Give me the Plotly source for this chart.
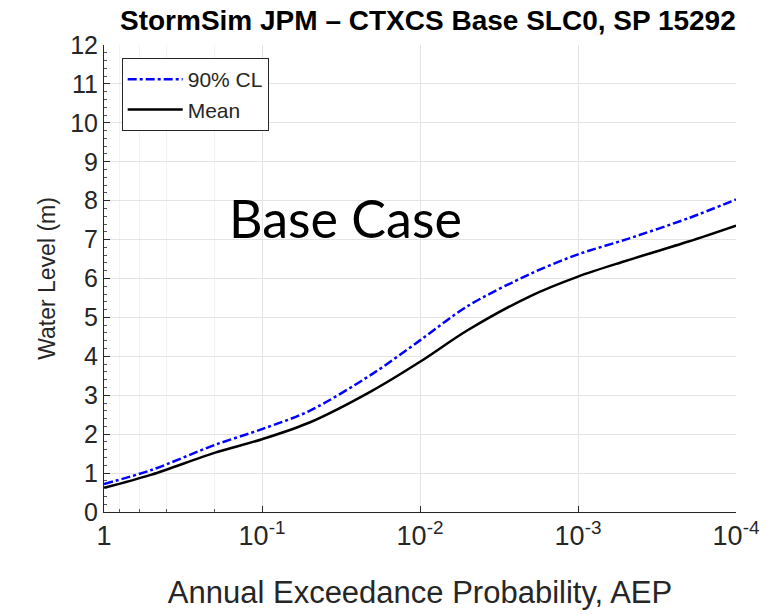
import plotly.graph_objects as go

aep = [1, 0.5, 0.2, 0.1, 0.05, 0.02, 0.01, 0.005, 0.002, 0.001, 0.0005, 0.0002, 0.0001]
cl90 = [0.72, 1.08, 1.72, 2.13, 2.6, 3.55, 4.41, 5.29, 6.12, 6.62, 7.0, 7.55, 8.03]
mean = [0.62, 0.96, 1.52, 1.87, 2.3, 3.12, 3.86, 4.67, 5.55, 6.05, 6.45, 6.95, 7.36]

xtick_vals = [1, 0.1, 0.01, 0.001, 0.0001]
xtick_text = ["1", "10<sup>-1</sup>", "10<sup>-2</sup>", "10<sup>-3</sup>", "10<sup>-4</sup>"]
ytick_vals = list(range(0, 13))

title_text = "<b>StormSim JPM – CTXCS Base SLC0, SP 15292</b>"

fig = go.Figure()
fig.add_trace(go.Scatter(x=aep, y=cl90, mode="lines", name="90% CL",
                         line=dict(color="#0000ff", width=2.5, dash="dashdot", shape="spline", smoothing=0.9)))
fig.add_trace(go.Scatter(x=aep, y=mean, mode="lines", name="Mean",
                         line=dict(color="#000000", width=2.5, shape="spline", smoothing=0.9)))

font_family = "Liberation Sans, Arial, sans-serif"

fig.update_layout(
    width=771, height=615,
    margin=dict(l=104, r=29, t=45, b=102),
    paper_bgcolor="white", plot_bgcolor="white",
    font=dict(family=font_family, color="#262626"),
    title=dict(text=title_text, x=0.555, xanchor="center", y=0.967, yanchor="middle",
               font=dict(size=28, color="#000000", family=font_family)),
    showlegend=True,
    legend=dict(x=0.028, y=0.972, xanchor="left", yanchor="top",
                bgcolor="white", bordercolor="#262626", borderwidth=1,
                font=dict(size=21, color="#262626"), tracegroupgap=0,
                itemwidth=55),
    xaxis=dict(type="log", range=[0, -4], tickvals=xtick_vals, ticktext=xtick_text,
               tickfont=dict(size=27), ticks="inside", ticklen=6, tickcolor="#262626",
               showline=True, linecolor="#262626", linewidth=1,
               showgrid=True, gridcolor="#e3e3e3", gridwidth=1,
               minor=dict(ticks="inside", ticklen=3, tickcolor="#555555", showgrid=True, gridcolor="#f3f3f3"),
               title=dict(text="Annual Exceedance Probability, AEP", font=dict(size=31), standoff=30),
               zeroline=False, mirror=False),
    yaxis=dict(range=[0, 12], tickvals=ytick_vals, tickfont=dict(size=25),
               ticks="inside", ticklen=6, tickcolor="#262626",
               showline=True, linecolor="#262626", linewidth=1,
               showgrid=True, gridcolor="#e3e3e3", gridwidth=1,
               minor=dict(ticks="inside", ticklen=3, dtick=0.2, tickcolor="#555555", showgrid=False),
               title=dict(text="Water Level (m)", font=dict(size=23), standoff=8),
               zeroline=False),
    annotations=[dict(text="Base Case", xref="paper", yref="paper", x=0.382, y=0.63,
                      showarrow=False, font=dict(size=52, family="Lato, Carlito, sans-serif", color="#000000"))],
)

fig.write_html("out.html")
